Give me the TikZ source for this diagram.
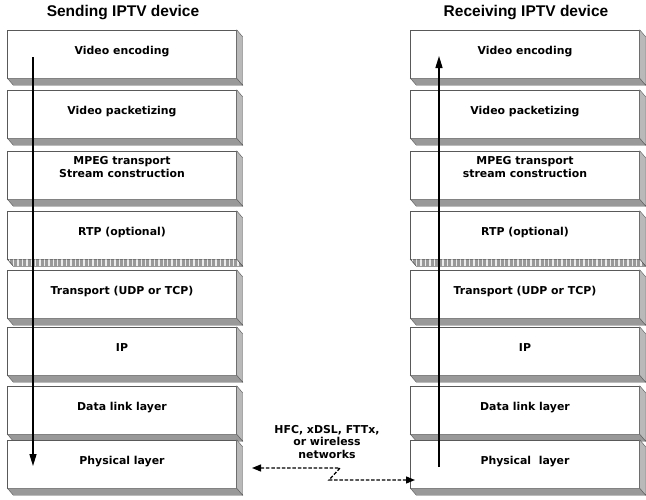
\documentclass[tikz,border=0pt]{standalone}
\usepackage{fontspec}
\setmainfont{DejaVu Sans}
\newfontfamily\titlefont{Liberation Sans}
\usetikzlibrary{calc,arrows.meta}

\begin{document}
\begin{tikzpicture}[x=1pt, y=-1pt,
      layer/.style={draw=black!65, fill=white, minimum width=229pt, minimum height=48pt,
        inner sep=0pt, align=center, font=\fontsize{10.9}{13}\selectfont\bfseries},
      base/.style={draw=black!65, fill=gray!80},
      side/.style={draw=black!65, fill=gray!55},
      title/.style={font=\titlefont\fontsize{15.5}{18}\selectfont\bfseries},
      flow/.style={line width=1.4pt, -{Triangle[length=12pt,width=7pt]}},
      link/.style={line width=1.3pt, dash pattern=on 3.5pt off 1.8pt,
        {Triangle[length=9pt,width=7pt]}-{Triangle[length=9pt,width=7pt]}}
    ]
    \useasboundingbox (0,0) rectangle (646,499);

    % Titles
    \node[title] (sendT) at (123,13) {Sending IPTV device};
    \node[title] (recvT) at (526,13) {Receiving IPTV device};

    % Layer stacks, one slab per layer in each device
    \foreach \i/\y/\td/\ltxt/\rtxt in {
        1/54/7pt/Video encoding/Video encoding,
        2/114/7pt/Video packetizing/Video packetizing,
        3/175/16pt/{MPEG transport\\Stream construction}/{MPEG transport\\stream construction},
        4/235/7pt/RTP (optional)/RTP (optional),
        5/294/7pt/Transport (UDP or TCP)/Transport (UDP or TCP),
        6/351/7pt/IP/IP,
        7/410/7pt/Data link layer/Data link layer,
        8/464/7pt/Physical layer/Physical\ \ layer} {
      \node[layer, text depth=\td] (s\i) at (122,\y) {\ltxt};
      \node[layer, text depth=\td] (r\i) at (525,\y) {\rtxt};
      \foreach \b in {s\i, r\i} {
        \path[base] (\b.south west) -- (\b.south east) -- ++(6,7)
          -- ($(\b.south west)+(6,7)$) -- cycle;
        \path[side] (\b.north east) -- ++(6,7) -- ($(\b.south east)+(6,7)$)
          -- (\b.south east) -- cycle;
      }
    }

    % striped base under RTP
    \foreach \b in {s4, r4} {
      \begin{scope}
        \clip (\b.south west) -- (\b.south east) -- ++(6,7)
          -- ($(\b.south west)+(6,7)$) -- cycle;
        \foreach \k in {0,...,54}
          \draw[white!85!gray, line width=1.3pt] ($(\b.south west)+(\k*4.4+2,0)$) -- ++(0,8);
      \end{scope}
      \path[draw=black!65] (\b.south west) -- (\b.south east) -- ++(6,7)
        -- ($(\b.south west)+(6,7)$) -- cycle;
    }

    % Flow through the stacks
    \coordinate (sTop) at (33,57);
    \coordinate (sBot) at (33,466);
    \draw[flow] (sTop) -- (sBot);
    \coordinate (rBot) at (439,467);
    \coordinate (rTop) at (439,56);
    \draw[flow] (rBot) -- (rTop);

    % Access network
    \node[align=center, font=\fontsize{10.9}{12.5}\selectfont\bfseries] (net) at (327,442)
      {HFC, xDSL, FTTx,\\or wireless\\networks};
    \coordinate (linkL) at (252,468);
    \coordinate (kinkA) at (340,468);
    \coordinate (kinkB) at (329,480);
    \coordinate (linkR) at (415,480);
    \draw[link] (linkL) -- (kinkA) -- (kinkB) -- (linkR);

  \end{tikzpicture}
\end{document}
